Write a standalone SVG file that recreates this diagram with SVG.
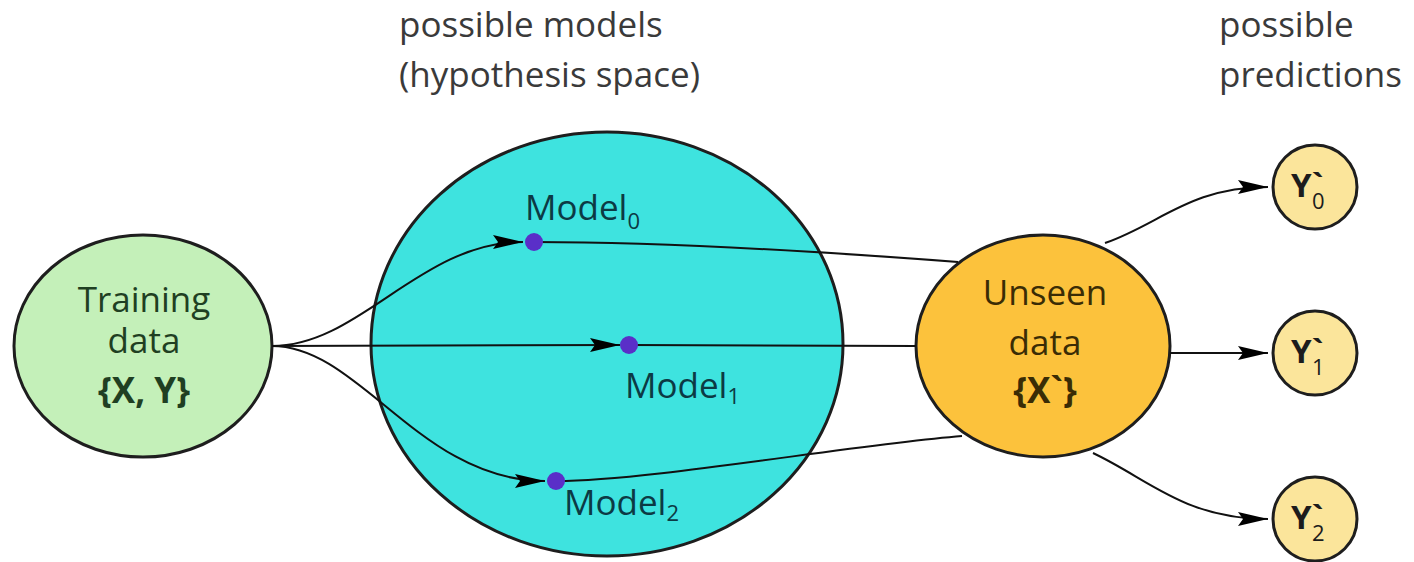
<svg xmlns="http://www.w3.org/2000/svg" width="1414" height="562" viewBox="0 0 1414 562">
<style>
text{font-family:"Open Sans","Noto Sans","Liberation Sans",sans-serif;font-size:35px}
.lbl{fill:#3a3a3a}
.node{stroke:#1e1e1e;stroke-width:3}
.edge{fill:none;stroke:#111;stroke-width:2}
.dot{fill:#5a2fc8}
.tg{fill:#1f3f22}
.tu{fill:#3a2c05}
.tm{fill:#0c3a44}
.ty{fill:#1c1c1c;font-size:33px;font-weight:bold}
.sub{font-size:22px;font-weight:normal}
.msub{font-size:22px}
.b{font-weight:bold}
</style>
<defs>
<marker id="arr" markerUnits="userSpaceOnUse" markerWidth="32" markerHeight="16" refX="30" refY="7" orient="auto">
<path d="M0,0 L30,7 L0,14 L5,7 z" fill="#000"/>
</marker>
</defs>
<rect width="1414" height="562" fill="#fff"/>
<g id="labels">
<text class="lbl" x="399" y="37">possible models</text>
<text class="lbl" x="399" y="87">(hypothesis space)</text>
<text class="lbl" x="1219" y="37">possible</text>
<text class="lbl" x="1219" y="87">predictions</text>
</g>
<g id="hypothesis-space">
<ellipse class="node" cx="607" cy="344" rx="236" ry="212" fill="#3ee3df"/>
</g>
<g id="training-data">
<ellipse class="node" cx="143" cy="346" rx="129" ry="111" fill="#c4f0b9"/>
<text class="tg" x="144" y="312" text-anchor="middle">Training</text>
<text class="tg" x="144" y="353" text-anchor="middle">data</text>
<text class="tg b" x="144" y="403" text-anchor="middle">{X, Y}</text>
</g>
<g id="unseen-data">
<ellipse class="node" cx="1043" cy="346" rx="127" ry="111" fill="#fcc23c"/>
<text class="tu" x="1045" y="305" text-anchor="middle">Unseen</text>
<text class="tu" x="1045" y="355" text-anchor="middle">data</text>
<text class="tu b" x="1045" y="403" text-anchor="middle">{X`}</text>
</g>
<g id="connectors">
<path class="edge" d="M272,346 C360,346 420,242 523,242" marker-end="url(#arr)"/>
<path class="edge" d="M272,346 L620,345" marker-end="url(#arr)"/>
<path class="edge" d="M272,346 C360,346 420,481 545,481" marker-end="url(#arr)"/>
<path class="edge" d="M534,242 C650,242 800,250 958,262"/>
<path class="edge" d="M629,345 L916,346"/>
<path class="edge" d="M556,481 C650,481 850,445 962,436"/>
<path class="edge" d="M1105,243 C1160,224 1190,187 1268,187" marker-end="url(#arr)"/>
<path class="edge" d="M1170,353 L1268,353" marker-end="url(#arr)"/>
<path class="edge" d="M1093,453 C1150,480 1185,519 1268,519" marker-end="url(#arr)"/>
</g>
<g id="model0">
<circle class="dot" cx="534" cy="242" r="9"/>
<text class="tm" x="525" y="220">Model<tspan class="msub" dy="9">0</tspan></text>
</g>
<g id="model1">
<circle class="dot" cx="629" cy="345" r="9"/>
<text class="tm" x="625" y="398">Model<tspan class="msub" dy="6">1</tspan></text>
</g>
<g id="model2">
<circle class="dot" cx="556" cy="481" r="9"/>
<text class="tm" x="564" y="515">Model<tspan class="msub" dy="6">2</tspan></text>
</g>
<g id="y0">
<circle class="node" cx="1315" cy="187" r="42" fill="#fbe59b"/>
<text class="ty" x="1291" y="197">Y`<tspan class="sub" x="1312" y="209">0</tspan></text>
</g>
<g id="y1">
<circle class="node" cx="1315" cy="353" r="42" fill="#fbe59b"/>
<text class="ty" x="1291" y="363">Y`<tspan class="sub" x="1312" y="375">1</tspan></text>
</g>
<g id="y2">
<circle class="node" cx="1315" cy="519" r="42" fill="#fbe59b"/>
<text class="ty" x="1291" y="529">Y`<tspan class="sub" x="1312" y="541">2</tspan></text>
</g>
</svg>
